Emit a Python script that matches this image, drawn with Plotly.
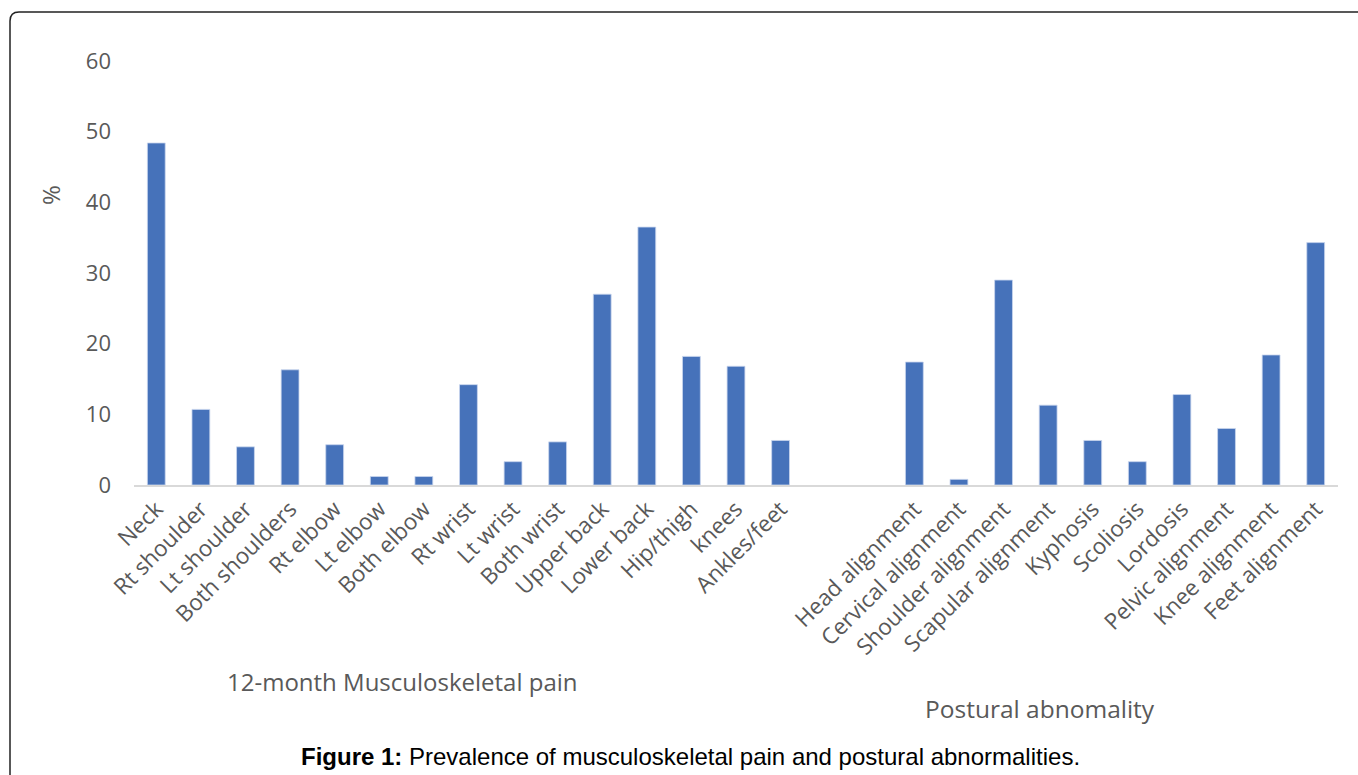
import plotly.graph_objects as go

pain_labels = ["Neck", "Rt shoulder", "Lt shoulder", "Both shoulders", "Rt elbow", "Lt elbow",
               "Both elbow", "Rt wrist", "Lt wrist", "Both wrist", "Upper back", "Lower back",
               "Hip/thigh", "knees", "Ankles/feet"]
pain_values = [48.4, 10.7, 5.4, 16.3, 5.7, 1.2, 1.2, 14.2, 3.3, 6.1, 27.0, 36.5, 18.2, 16.8, 6.3]

gap_labels = [" ", "  "]
gap_values = [None, None]

posture_labels = ["Head alignment", "Cervical alignment", "Shoulder alignment", "Scapular alignment",
                  "Kyphosis", "Scoliosis", "Lordosis", "Pelvic alignment", "Knee alignment",
                  "Feet alignment"]
posture_values = [17.4, 0.8, 29.0, 11.3, 6.3, 3.3, 12.8, 8.0, 18.4, 34.3]

y_ticks = [0, 10, 20, 30, 40, 50, 60]

categories = pain_labels + gap_labels + posture_labels
values = pain_values + gap_values + posture_values

# layout geometry (pixels)
W, H = 1358, 775
L, R = 134, 1338
T, B = 61, 485
pw, ph = R - L, B - T


def px(x):
    return (x - L) / pw


def py(y):
    return (B - y) / ph


fig = go.Figure(go.Bar(
    x=categories, y=values,
    marker=dict(color="#4672BA", line=dict(color="#C9D6EE", width=0.8)),
    width=0.4, hoverinfo="skip",
))

gray = "#595959"
sans = "Open Sans, Lato, sans-serif"
fig.update_layout(
    width=W, height=H,
    margin=dict(l=L, r=W - R, t=T, b=H - B),
    paper_bgcolor="white", plot_bgcolor="white",
    showlegend=False,
    font=dict(family=sans, color=gray, size=22),
    xaxis=dict(
        type="category", categoryorder="array", categoryarray=categories,
        range=[-0.5, len(categories) - 0.5],
        tickangle=-45, showline=True, linecolor="#D9D9D9", linewidth=2,
        ticks="", showgrid=False, zeroline=False, automargin=False,
        tickfont=dict(size=22.5, color=gray, family=sans),
    ),
    yaxis=dict(
        range=[0, 60], tickvals=y_ticks, showgrid=False, zeroline=False,
        showline=False, ticks="", ticklabelstandoff=22, automargin=False,
        tickfont=dict(size=22, color=gray, family=sans),
    ),
)

ann = [
    dict(text="%", x=px(50), y=py(195), textangle=-90, font=dict(size=24, color=gray)),
    dict(text="12-month Musculoskeletal pain", x=px(402), y=py(681), font=dict(size=24, color=gray)),
    dict(text="Postural abnomality", x=px(1040), y=py(708), font=dict(size=24.5, color=gray)),
    dict(text="<b>Figure 1:</b> Prevalence of musculoskeletal pain and postural abnormalities.",
         x=px(690), y=py(757), font=dict(size=24, color="black", family="Liberation Sans, Arial, sans-serif")),
]
for a in ann:
    a.update(xref="paper", yref="paper", showarrow=False, xanchor="center", yanchor="middle")
fig.update_layout(annotations=ann)

# rounded border frame
x0, y0 = px(10), py(12)
x1, y1 = px(1370), py(800)
rx, ry = 9 / pw, 9 / ph
path = (f"M {x0},{y1} L {x0},{y0 - ry} Q {x0},{y0} {x0 + rx},{y0} L {x1},{y0}")
fig.add_shape(type="path", path=path, xref="paper", yref="paper",
              line=dict(color="#222222", width=1.5))

fig.write_html("out.html")
